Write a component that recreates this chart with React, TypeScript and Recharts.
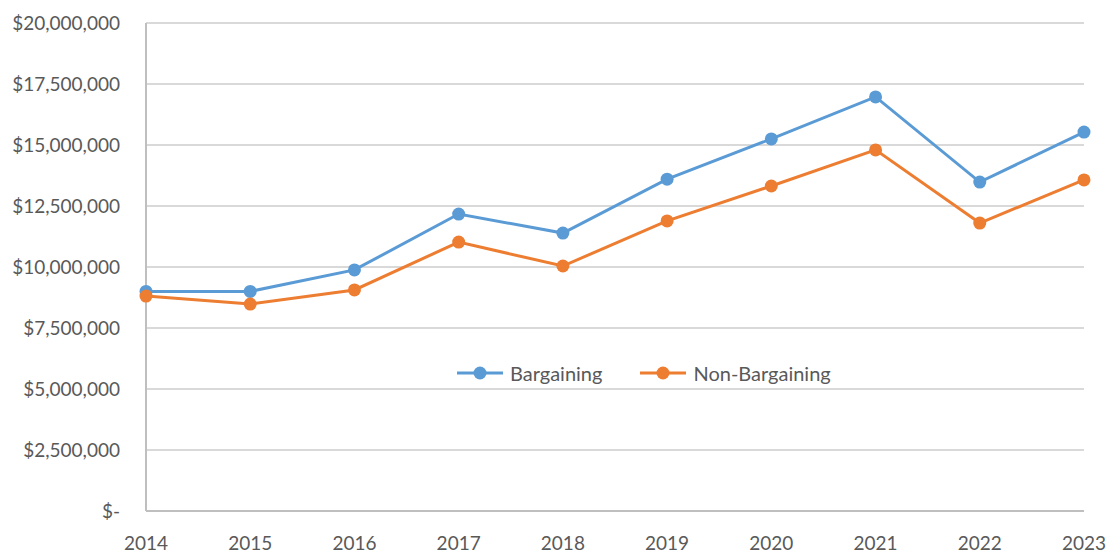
import { LineChart, Line, XAxis, YAxis, CartesianGrid } from 'recharts';

const years = ['2014', '2015', '2016', '2017', '2018', '2019', '2020', '2021', '2022', '2023'];
const bargaining = [9.0, 9.0, 9.88, 12.17, 11.39, 13.6, 15.25, 16.97, 13.48, 15.53];
const nonBargaining = [8.81, 8.48, 9.06, 11.02, 10.04, 11.89, 13.32, 14.8, 11.8, 13.57];
const yTicks = [0, 2500000, 5000000, 7500000, 10000000, 12500000, 15000000, 17500000, 20000000];

const data = years.map((year, i) => ({
  year,
  bargaining: bargaining[i] * 1000000,
  nonBargaining: nonBargaining[i] * 1000000,
}));

const BLUE = '#5B9BD5';
const ORANGE = '#ED7D31';
const TEXT = '#595959';
const FONT = 'Lato, "Liberation Sans", sans-serif';

const fmtMoney = (v: number) => (v === 0 ? '$-' : '$' + v.toLocaleString('en-US'));

function LegendItem({ color, label }: { color: string; label: string }) {
  return (
    <div style={{ display: 'flex', alignItems: 'center', marginRight: 37 }}>
      <svg width={48} height={16}>
        <line x1={1} y1={8} x2={47} y2={8} stroke={color} strokeWidth={3} />
        <circle cx={24} cy={8} r={6.5} fill={color} />
      </svg>
      <span style={{ marginLeft: 6, fontSize: 20, color: TEXT, fontFamily: FONT }}>{label}</span>
    </div>
  );
}

// legend sits inside the plot, so it's drawn as an overlay instead of taking chart space
function ChartLegend() {
  return (
    <div style={{ position: 'absolute', top: 361, left: 456, display: 'flex' }}>
      <LegendItem color={BLUE} label="Bargaining" />
      <LegendItem color={ORANGE} label="Non-Bargaining" />
    </div>
  );
}

export default function App() {
  return (
    <div style={{ position: 'absolute', left: 0, top: 0, width: 1112, height: 554, background: '#fff' }}>
      <LineChart width={1112} height={554} data={data} margin={{ top: 23, right: 28, bottom: 0, left: 0 }}>
        <CartesianGrid vertical={false} stroke="#d9d9d9" strokeWidth={2} />
        <XAxis
          dataKey="year"
          height={43}
          stroke="#bfbfbf"
          strokeWidth={2}
          tickLine={false}
          padding={{ left: 0, right: 0 }}
          interval={0}
          tick={{ fill: TEXT, fontSize: 19, fontFamily: FONT }}
          tickMargin={20}
        />
        <YAxis
          width={146}
          domain={[0, 20000000]}
          ticks={yTicks}
          tickFormatter={fmtMoney}
          stroke="#bfbfbf"
          strokeWidth={2}
          tickLine={false}
          tick={{ fill: TEXT, fontSize: 19, fontFamily: FONT }}
          tickMargin={20}
        />
        <Line
          dataKey="bargaining"
          name="Bargaining"
          stroke={BLUE}
          strokeWidth={3}
          dot={{ r: 6.5, fill: BLUE, stroke: BLUE, strokeWidth: 0 }}
          isAnimationActive={false}
        />
        <Line
          dataKey="nonBargaining"
          name="Non-Bargaining"
          stroke={ORANGE}
          strokeWidth={3}
          dot={{ r: 6.5, fill: ORANGE, stroke: ORANGE, strokeWidth: 0 }}
          isAnimationActive={false}
        />
      </LineChart>
      <ChartLegend />
    </div>
  );
}
